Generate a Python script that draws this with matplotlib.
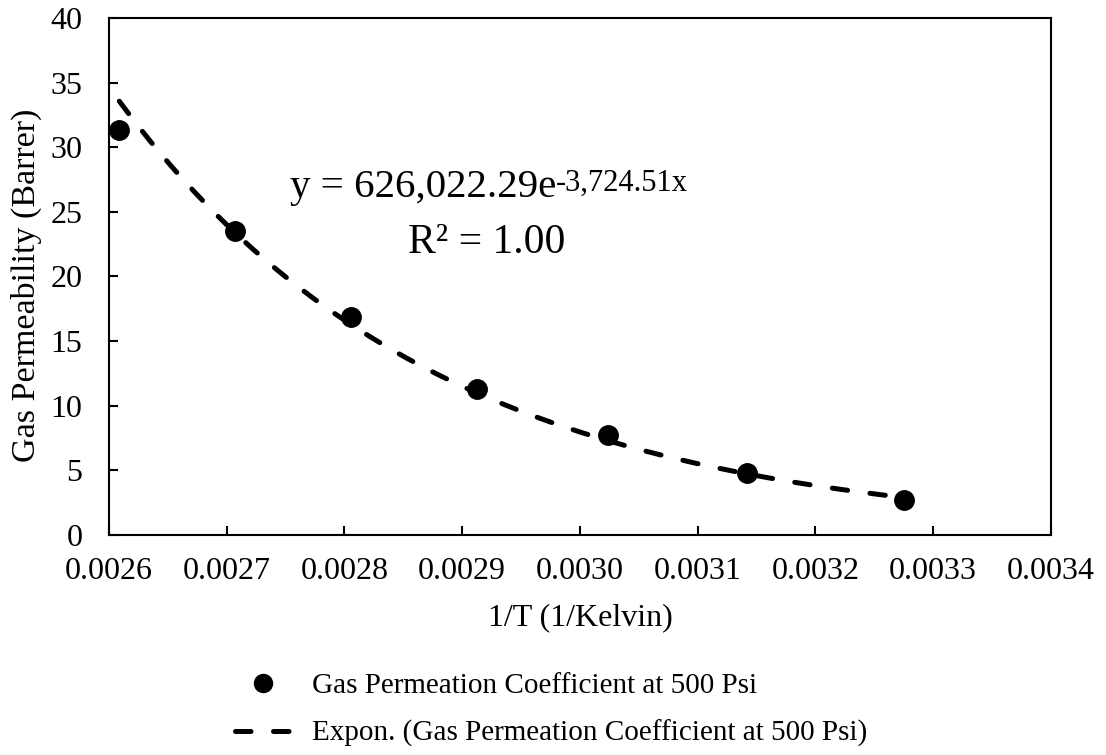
import numpy as np
import matplotlib
matplotlib.use("Agg")
import matplotlib.pyplot as plt
from matplotlib.lines import Line2D

# Data
inv_T = [0.002609, 0.002707, 0.002806, 0.002913, 0.003024, 0.003142, 0.003275]
permeability = [31.3, 23.5, 16.9, 11.3, 7.7, 4.8, 2.7]
x_ticks = [0.0026, 0.0027, 0.0028, 0.0029, 0.0030, 0.0031, 0.0032, 0.0033, 0.0034]
x_tick_labels = ["0.0026", "0.0027", "0.0028", "0.0029", "0.0030", "0.0031", "0.0032", "0.0033", "0.0034"]
y_ticks = [0, 5, 10, 15, 20, 25, 30, 35, 40]
series_label = "Gas Permeation Coefficient at 500 Psi"
trend_label = "Expon. (Gas Permeation Coefficient at 500 Psi)"
eq_main = "y = 626,022.29e"
eq_sup = "-3,724.51x"
r2_text = "R\u00b2 = 1.00"

plt.rcParams['font.family'] = ['Liberation Serif', 'DejaVu Serif']

fig = plt.figure(figsize=(11.06, 7.55), dpi=100)
ax = fig.add_axes([0.0983, 0.2914, 0.852, 0.6848])

# exponential trendline (least squares on log)
xa = np.array(inv_T)
ya = np.array(permeability)
b, a = np.polyfit(xa, np.log(ya), 1)
xf = np.linspace(xa.min(), xa.max(), 200)
yf = np.exp(a) * np.exp(b * xf)

ax.plot(xf, yf, color='black', lw=3.6, dashes=(3.1, 4.5),
        dash_capstyle='round', zorder=2)
ax.plot(inv_T, permeability, 'o', color='black', markersize=14, zorder=3)

ax.set_xlim(0.0026, 0.0034)
ax.set_ylim(0, 40)
ax.set_xticks(x_ticks)
ax.set_xticklabels(x_tick_labels)
ax.set_yticks(y_ticks)

for s in ax.spines.values():
    s.set_linewidth(1.5)
    s.set_color('black')

ax.tick_params(axis='both', direction='in', length=6.5, width=1.5,
               labelsize=23, colors='black')
ax.tick_params(axis='x', pad=16)
ax.tick_params(axis='y', pad=19)

ax.set_xlabel("1/T (1/Kelvin)", fontsize=23)
ax.set_ylabel("Gas Permeability (Barrer)", fontsize=24.5)
ax.xaxis.set_label_coords(0.5, (535 - 603) / 517)
ax.yaxis.set_label_coords((42 - 108.7) / 942.3, (535 - 285.5) / 517)

# equation text
main = ax.text(0.1924, 0.654, eq_main, transform=ax.transAxes,
               fontsize=29.5, ha='left', va='baseline')
ax.annotate(eq_sup, xy=(1, 1), xycoords=main, xytext=(0, 0),
            textcoords='offset points', fontsize=22, ha='left', va='top')
ax.text(0.318, 0.545, r2_text, transform=ax.transAxes,
        fontsize=30, ha='left', va='baseline')

# legend
h1 = Line2D([], [], marker='o', color='black', linestyle='none', markersize=13)
h2 = Line2D([], [], color='black', lw=3.6, dashes=(3.1, 4.5), dash_capstyle='round')
fig.legend([h1, h2], [series_label, trend_label], loc='upper left',
           bbox_to_anchor=(235 / 1106, 1 - 673 / 755), frameon=False,
           fontsize=21, handlelength=1.95, handletextpad=0.68,
           labelspacing=0.7, borderpad=0, borderaxespad=0)

fig.savefig("out.png", dpi=100)
